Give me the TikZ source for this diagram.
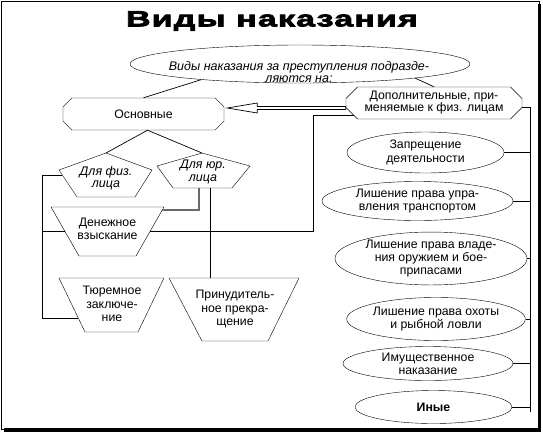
\documentclass[tikz,border=0pt]{standalone}
\usepackage{fontspec}
\setmainfont{Liberation Sans}
\newfontfamily\titlefont{Liberation Sans}[FakeStretch=1.55, LetterSpace=5, BoldFeatures={FakeBold=3.5}]
\definecolor{linkgray}{RGB}{105, 105, 105}
\usetikzlibrary{shapes.geometric, shapes.misc, calc}

\begin{document}
\begin{tikzpicture}[x=1pt, y=-1pt,
  txt/.style={font=\fontsize{12.3}{13.5}\selectfont, align=center, inner sep=0pt},
  oval/.style={draw, ellipse, fill=white, inner sep=0pt, font=\fontsize{12.3}{13.2}\selectfont, align=center},
  chamf/.style={draw, chamfered rectangle, chamfered rectangle xsep=8pt, fill=white, inner sep=1pt, font=\fontsize{12.3}{12}\selectfont, align=center},
  link/.style={line width=0.7pt}]
  \useasboundingbox (0,0) rectangle (543,432);
  \draw[line width=1pt] (1.5,1.5) rectangle (539,429.5);
  \draw[line width=3.5pt] (539.5,4) -- (539.5,430) -- (4,430);

  \node[font={\titlefont\fontsize{22}{24}\selectfont\bfseries}] (title) at (272,21) {Виды наказания};

  \node[oval, minimum width=340pt, minimum height=38pt] (kinds) at (300,64) {};
  \node[txt, font=\fontsize{12.5}{11.5}\selectfont\itshape] (kindslbl) at (299,72) {Виды наказания за преступления подразде-\\ляются на:};

  \node[chamf, minimum width=161pt, minimum height=32pt] (osn) at (143.5,114) {Основные};
  \node[chamf, minimum width=176pt, minimum height=30pt] (dop) at (434,103) {Дополнительные, при-\\меняемые к физ. лицам};

  \draw[fill=white] (106,153) coordinate (fiztop) -- (152,170) -- (135,197) coordinate (fizSE)
    -- (77,197) coordinate (fizSW) -- (59,170) coordinate (fizW) -- cycle;
  \node[txt, font=\fontsize{12.5}{12.5}\selectfont\itshape] (fiz) at (106,178) {Для физ.\\лица};
  \draw[fill=white] (202,153) coordinate (yurtop) -- (250,166) -- (232,188) coordinate (yurSE)
    -- (173,188) coordinate (yurSW) -- (157,166) -- cycle;
  \node[txt, font=\fontsize{12.5}{12.5}\selectfont\itshape] (yur) at (203,172) {Для юр.\\лица};

  \draw[fill=white] (51,207) coordinate (denTL) -- (164,207) coordinate (denTR)
    -- (136,256) coordinate (denBR) -- (79,256) coordinate (denBL) -- cycle;
  \node[txt] (den) at (107.5,229) {Денежное\\взыскание};
  \draw[fill=white] (59,278) coordinate (turTL) -- (164,278) coordinate (turTR)
    -- (138,332) coordinate (turBR) -- (85,332) coordinate (turBL) -- cycle;
  \node[txt] (tur) at (112,304) {Тюремное\\заключе-\\ние};
  \draw[fill=white] (169,278) coordinate (priTL) -- (299,278) coordinate (priTR)
    -- (268,341) coordinate (priBR) -- (202,341) coordinate (priBL) -- cycle;
  \node[txt] (pri) at (235,309) {Принудитель-\\ное прекра-\\щение};

  \node[oval, minimum width=157pt, minimum height=41pt] (e1) at (425.5,152.5) {Запрещение\\деятельности};
  \node[oval, minimum width=191pt, minimum height=39pt] (e2) at (417.5,201) {Лишение права упра-\\вления транспортом};
  \node[oval, minimum width=192pt, minimum height=52pt] (e3) at (431,258.5) {Лишение права владе-\\ния оружием и бое-\\припасами};
  \node[oval, minimum width=168pt, minimum height=43pt] (e4) at (436,319) {Лишение права охоты\\и рыбной ловли};
  \node[oval, minimum width=170pt, minimum height=34pt] (e5) at (428,363.5) {Имущественное\\наказание};
  \node[oval, minimum width=157pt, minimum height=33pt, font=\fontsize{12.3}{13.5}\selectfont\bfseries] (e6) at (433.5,407) {Иные};

  \draw[link] (kinds.-171) -- (osn.north);
  \draw[link] (kinds.-7) -- (dop.north);
  \draw[link] ($(osn.south)+(4,0)$) -- (fiztop);
  \draw[link] ($(osn.south)+(4,0)$) -- (yurtop);

  \coordinate (arrtip) at ($(osn.east)+(3,-6)$);
  \draw[link, fill=white] (arrtip) -- ++(30,-5) -- ++(0,3.5) -- ($(dop.west |- arrtip)+(0,-1.5)$)
    -- ($(dop.west |- arrtip)+(0,1.5)$) -- ($(arrtip)+(30,1.5)$) -- ($(arrtip)+(30,5)$) -- cycle;

  \coordinate (fizL) at ($(fizW)!0.19!(fizSW)$);
  \coordinate (lcol) at ($(fizL)+(-20,0)$);
  \coordinate (turL) at ($(turTL)!0.74!(turBL)$);
  \coordinate (denR) at ($(denTR)!0.5!(denBR)$);
  \coordinate (denL) at ($(denTL)!0.5!(denBL)$);
  \coordinate (busR) at (313,0);
  \coordinate (yurB1) at ($(yurSW)!0.44!(yurSE)$);
  \coordinate (yurB2) at ($(yurSW)!0.64!(yurSE)$);
  \draw[link] (fizL) -- (lcol) |- (turL);
  \draw[link] (dop.189) -| (busR |- denR) -- (denR);
  \draw[link] (denL) -- (denL -| lcol);
  \draw[linkgray, line width=1.2pt] (yurB1) |- ($(denTR)!0.06!(denBR)$);
  \draw[link] (yurB2) -- (yurB2 |- priTL);

  \draw[link] (dop.-3) -- ++(8,0) coordinate (rcol) -- ($(e6.east -| rcol)+(0,5)$);
  \foreach \i in {1,...,6} {
    \draw[link] (e\i.east) -- (e\i.east -| rcol);
  }
\end{tikzpicture}
\end{document}
